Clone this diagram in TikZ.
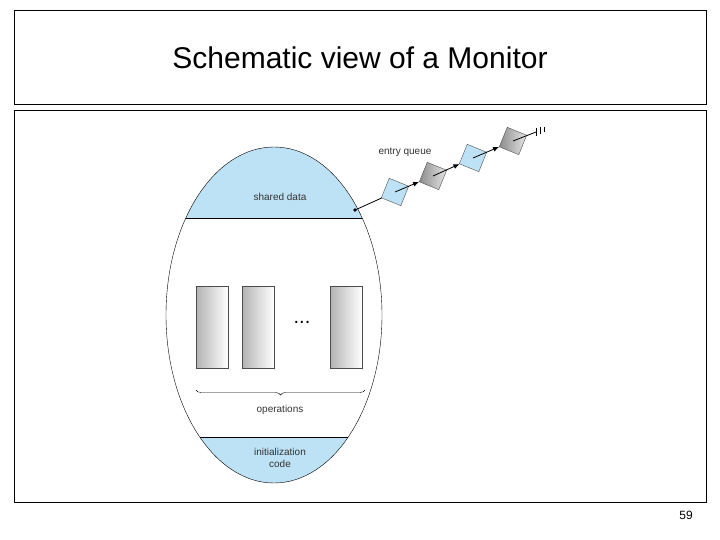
\documentclass[tikz,border=0pt]{standalone}
\usepackage{fontspec}
\setmainfont{Liberation Sans}
\usetikzlibrary{decorations.pathreplacing,arrows.meta}
\definecolor{capblue}{RGB}{190,226,245}
\tikzset{
  opbox/.style={draw=black!70,left color=black!30,right color=white,minimum width=32pt,minimum height=82pt,inner sep=0},
  qblue/.style={draw=black!70,fill=capblue,minimum size=21pt,inner sep=0,rotate=-22},
  qgray/.style={draw=black!70,left color=black!45,right color=black!10,minimum size=21pt,inner sep=0,rotate=-22},
  lab/.style={font=\fontsize{10}{12}\selectfont,text=black!80,align=center},
  qarr/.style={-{Latex[length=6pt,width=5pt]},thick}
}
\begin{document}
\begin{tikzpicture}[x=1pt,y=-1pt]
\useasboundingbox (0,0) rectangle (720,540);
\draw[thin] (14,10) rectangle (706,104);
\node (title) at (360,58) {\fontsize{30}{34}\selectfont Schematic view of a Monitor};
\draw[thin] (14,110) rectangle (706,502);
\node (pg) at (686,515) {\fontsize{12}{14}\selectfont 59};
% ellipse with caps
\begin{scope}
\clip (274,315) ellipse [x radius=108, y radius=168];
\fill[capblue] (150,140) rectangle (400,218);
\fill[capblue] (150,437) rectangle (400,490);
\draw (150,218) -- (400,218);
\draw (150,437) -- (400,437);
\end{scope}
\draw (274,315) ellipse [x radius=108, y radius=168];
\node[lab] (sd) at (280,197) {shared data};
\node[lab] (ic) at (280,458) {initialization\\code};
\node[opbox] (o1) at (212,327) {};
\node[opbox] (o2) at (258,327) {};
\node[opbox] (o3) at (346,327) {};
\node (dots) at (302,322) {\fontsize{20}{20}\selectfont ...};
\draw[decorate,decoration={brace,mirror,amplitude=5pt}] (196,390) -- (365,390);
\node[lab] (opl) at (280,410) {operations};
% entry queue
\coordinate (att) at (355,210);
\node[qblue] (q1) at (395,192) {};
\node[qgray] (q2) at (433,176) {};
\node[qblue] (q3) at (473,158) {};
\node[qgray] (q4) at (513,141) {};
\coordinate (qe) at (536,132);
\node[lab] (eq) at (405,152) {entry queue};
\fill (att) circle (1.8);
\draw[thick] (att) -- (q1);
\draw[qarr] (q1.center) -- (q2);
\draw[qarr] (q2.center) -- (q3);
\draw[qarr] (q3.center) -- (q4);
\draw[thick] (q4.center) -- (qe);
\draw[thick] (536,128) -- (536,136) (540,127) -- (540,134) (544,127) -- (544,132);
\end{tikzpicture}
\end{document}
